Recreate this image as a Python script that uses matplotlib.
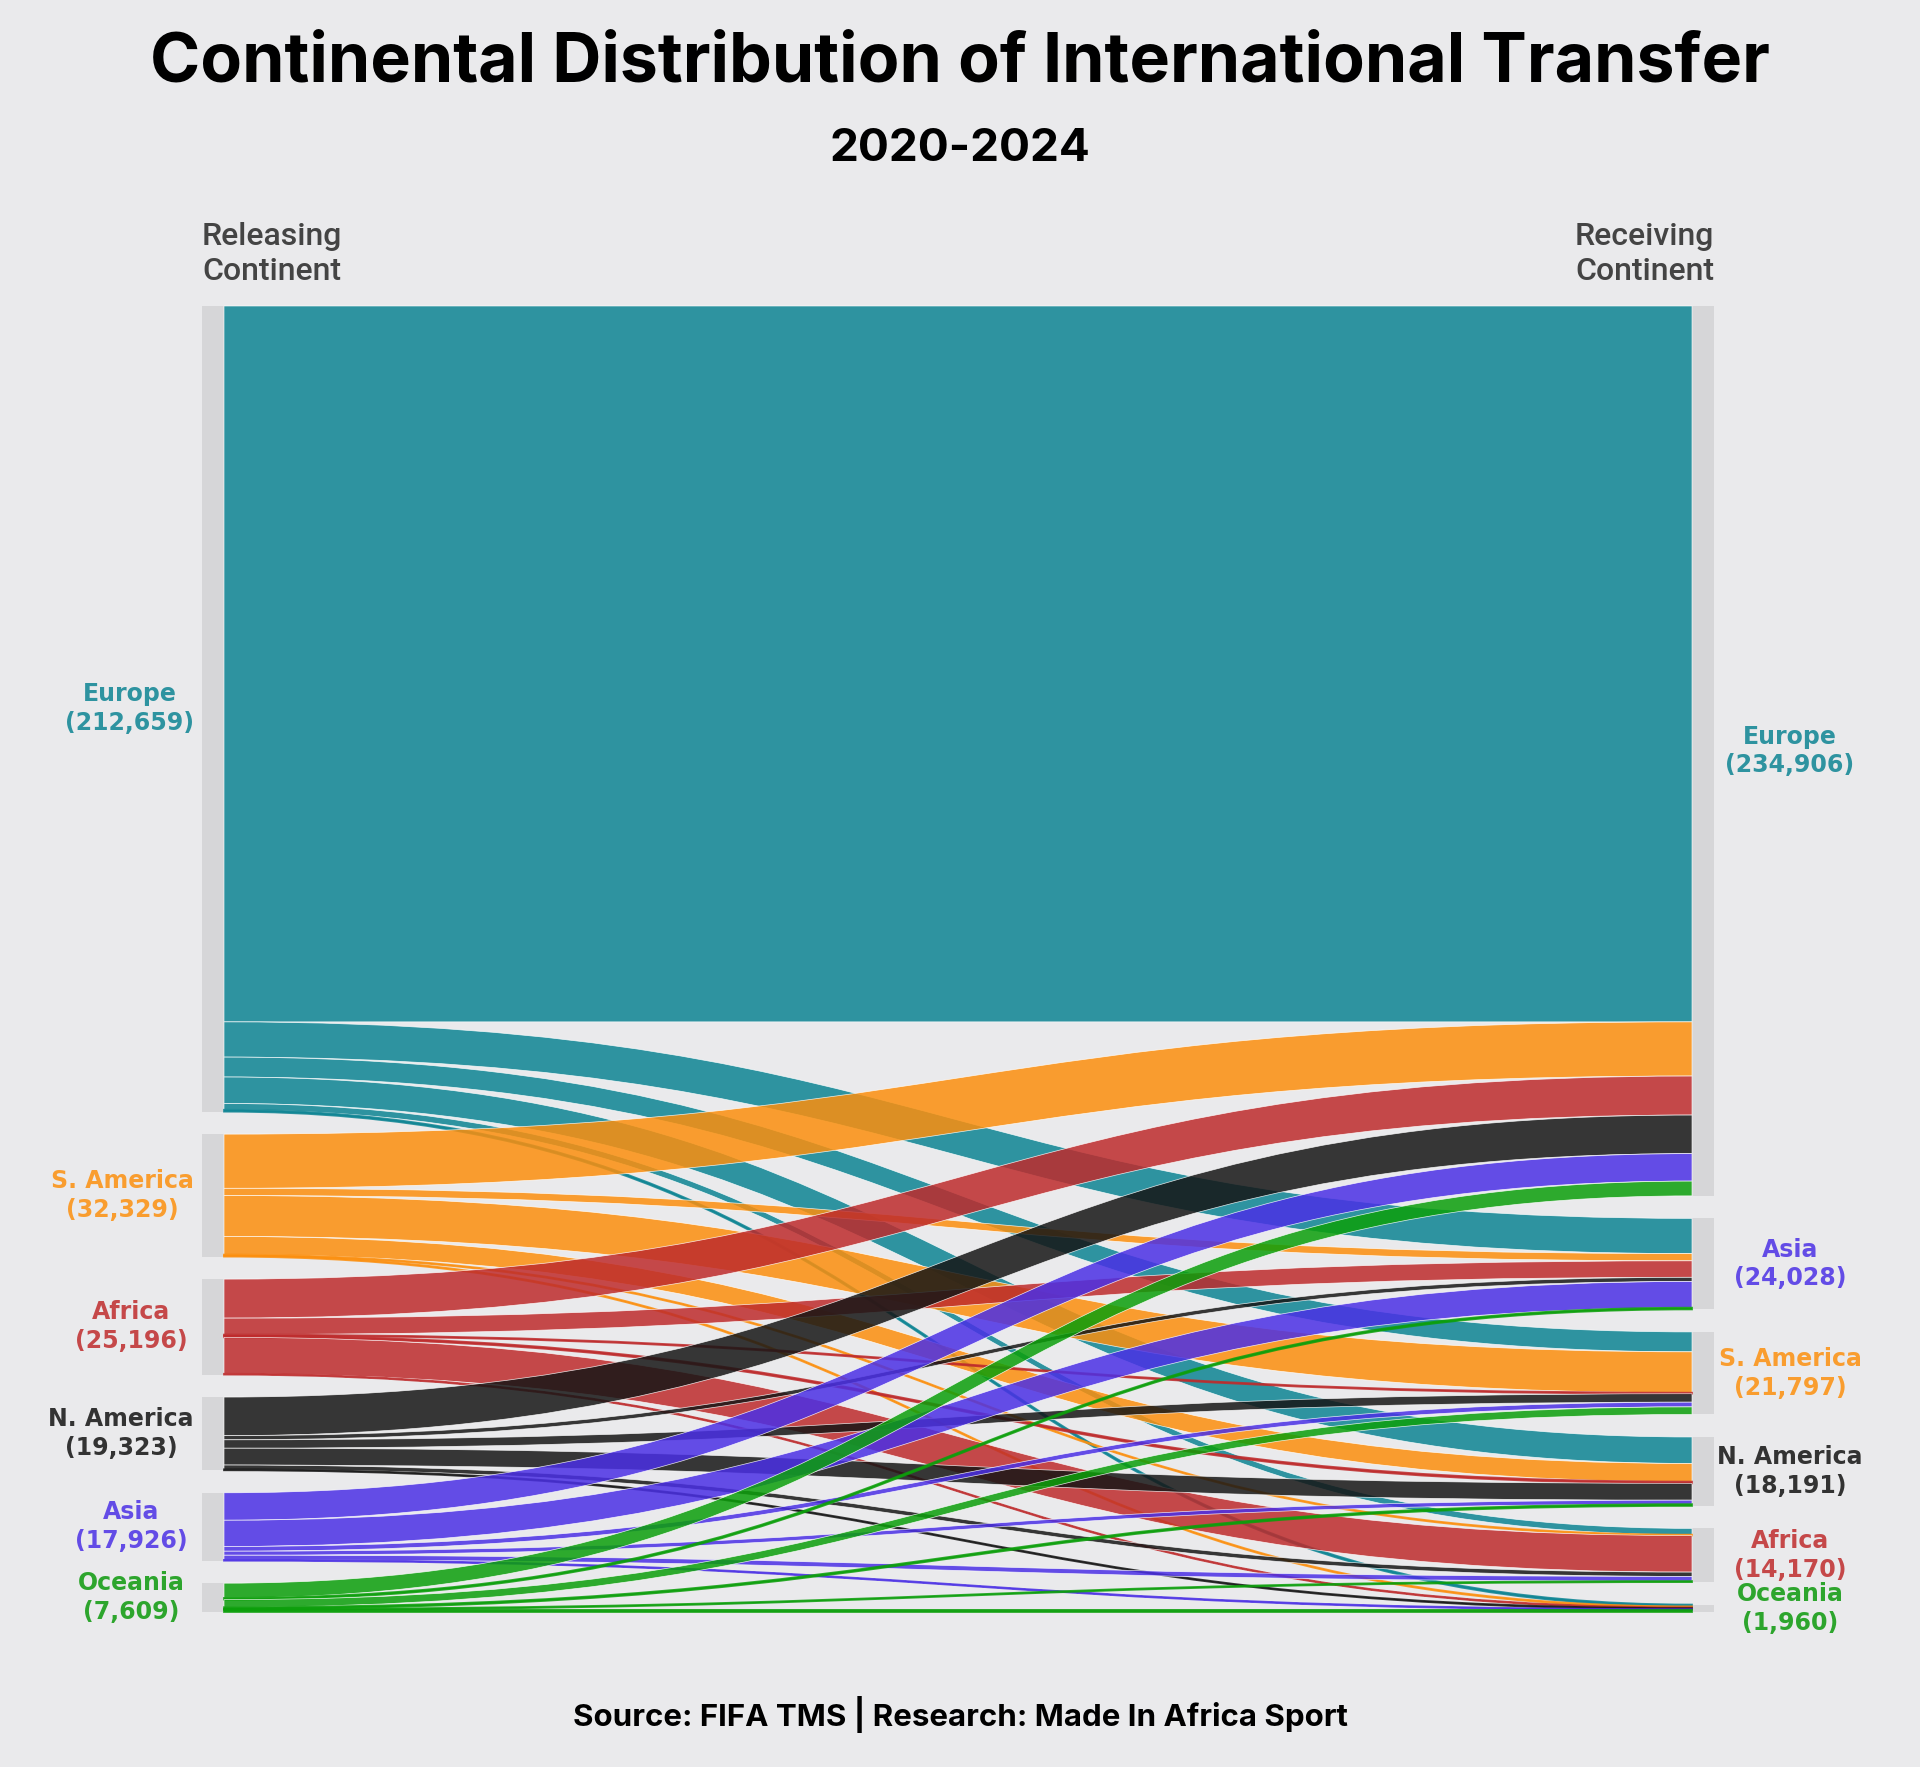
import matplotlib.pyplot as plt
from matplotlib.path import Path
from matplotlib.patches import PathPatch, Rectangle

# continents in the order they are stacked on each side
sources = ['Europe', 'S. America', 'Africa', 'N. America', 'Asia', 'Oceania']
targets = ['Europe', 'Asia', 'S. America', 'N. America', 'Africa', 'Oceania']

# node totals as printed on the chart
source_totals = [212659, 32329, 25196, 19323, 17926, 7609]
target_totals = [234906, 24028, 21797, 18191, 14170, 1960]

# transfers: rows = releasing continent (sources), cols = receiving continent (targets)
flows = [
    [188964, 9302, 5257, 6990, 1664, 482],   # Europe
    [14300, 1900, 10800, 4800, 250, 280],    # S. America
    [10300, 4350, 270, 450, 9626, 200],      # Africa
    [10183, 1100, 2220, 4440, 1130, 250],    # N. America
    [7250, 6926, 1250, 1060, 1240, 200],     # Asia
    [3900, 450, 2000, 451, 260, 548],        # Oceania
]

# text colours (as seen) and link colours (drawn with alpha)
text_col = {'Europe': '#2E93A0', 'S. America': '#F99D2F', 'Africa': '#C54849',
            'N. America': '#333333', 'Asia': '#634CE6', 'Oceania': '#2DA52D'}
link_col = {'Europe': '#0D8493', 'S. America': '#FC8F0E', 'Africa': '#BE2B2C',
            'N. America': '#161616', 'Asia': '#4B30E5', 'Oceania': '#0C9F0B'}
bg = '#EAEAEC'

W, H = 1920, 1767
fig = plt.figure(figsize=(W / 100, H / 100), dpi=100, facecolor=bg)
ax = fig.add_axes([0, 0, 1, 1])
ax.set_xlim(0, W)
ax.set_ylim(H, 0)
ax.axis('off')
ax.set_facecolor(bg)

# layout (pixels)
top, bottom, gap = 306, 1612, 22.5
xl0, xl1 = 202, 224       # left node bar
xr0, xr1 = 1692, 1714     # right node bar
n = len(sources)
out_sum = [sum(r) for r in flows]
in_sum = [sum(flows[i][j] for i in range(n)) for j in range(n)]
k = (bottom - top - (n - 1) * gap) / max(sum(out_sum), sum(in_sum))

def stack(sizes):
    pos, y = [], top
    for s in sizes:
        pos.append(y)
        y += s * k + gap
    return pos

src_y = stack(out_sum)
tgt_y = stack(in_sum)

# node bars
for i in range(n):
    ax.add_patch(Rectangle((xl0, src_y[i]), xl1 - xl0, out_sum[i] * k,
                           fc='#D6D6D8', ec='none', zorder=1))
    ax.add_patch(Rectangle((xr0, tgt_y[i]), xr1 - xr0, in_sum[i] * k,
                           fc='#D6D6D8', ec='none', zorder=1))

# offsets where each link starts / ends
src_off = list(src_y)
tgt_start = {}
for j in range(n):
    y = tgt_y[j]
    for i in range(n):
        tgt_start[(i, j)] = y
        y += flows[i][j] * k

xm = (xl1 + xr0) / 2
for i in range(n):
    for j in range(n):
        h = flows[i][j] * k
        y0 = src_off[i]
        y1 = tgt_start[(i, j)]
        src_off[i] += h
        verts = [(xl1, y0), (xm, y0), (xm, y1), (xr0, y1),
                 (xr0, y1 + h), (xm, y1 + h), (xm, y0 + h), (xl1, y0 + h),
                 (xl1, y0)]
        codes = [Path.MOVETO, Path.CURVE4, Path.CURVE4, Path.CURVE4,
                 Path.LINETO, Path.CURVE4, Path.CURVE4, Path.CURVE4,
                 Path.CLOSEPOLY]
        c = link_col[sources[i]]
        if h < 4:
            # thin links: outline in own colour so they stay visible
            ax.add_patch(PathPatch(Path(verts, codes), fc=c, ec=c, lw=1.3,
                                   alpha=0.85, zorder=2))
        else:
            ax.add_patch(PathPatch(Path(verts, codes), fc=c, alpha=0.85,
                                   ec=(1, 1, 1, 0.45), lw=0.5, zorder=2))

# node labels
left_labels = []
for i, name in enumerate(sources):
    yc = src_y[i] + out_sum[i] * k / 2
    t = ax.text(131, yc, f'{name}\n({source_totals[i]:,})', ha='center', va='center',
                fontsize=17, fontweight='bold', color=text_col[name],
                family='DejaVu Sans', linespacing=1.25, zorder=3)
    left_labels.append(t)
for j, name in enumerate(targets):
    yc = tgt_y[j] + in_sum[j] * k / 2
    ax.text(1790, yc, f'{name}\n({target_totals[j]:,})', ha='center', va='center',
            fontsize=17, fontweight='bold', color=text_col[name],
            family='DejaVu Sans', linespacing=1.25, zorder=3)

head = ['Inter', 'Roboto', 'DejaVu Sans']
ax.text(W / 2, 64, 'Continental Distribution of International Transfer', ha='center',
        va='center', fontsize=49, fontweight='bold', family=head, color='black')
ax.text(W / 2, 149, '2020-2024', ha='center', va='center', fontsize=33,
        fontweight='bold', family=head, color='black')
ax.text(xl0, 254, 'Releasing\nContinent', ha='left', va='center', fontsize=23,
        fontweight='medium', family='Roboto', color='#444444', linespacing=1.3)
ax.text(xr1, 254, 'Receiving\nContinent', ha='right', va='center', fontsize=23,
        fontweight='medium', family='Roboto', color='#444444', linespacing=1.3,
        multialignment='right')
ax.text(W / 2, 1714, 'Source: FIFA TMS | Research: Made In Africa Sport', ha='center',
        va='center', fontsize=22.5, fontweight='bold', family=head, color='black')

# keep left labels clear of the node bars
fig.canvas.draw()
r = fig.canvas.get_renderer()
for t in left_labels:
    bb = t.get_window_extent(r)
    if bb.x1 > 194:
        t.set_x(t.get_position()[0] - (bb.x1 - 194))

fig.savefig('out.png', dpi=100, facecolor=bg)
